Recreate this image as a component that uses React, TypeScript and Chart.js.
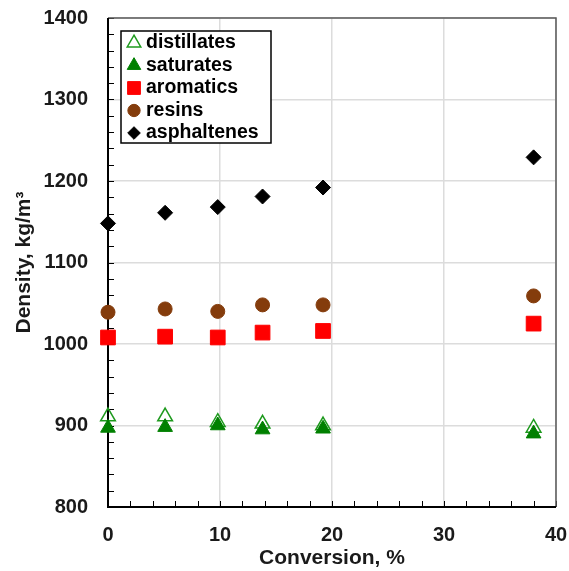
import React, { useEffect, useRef } from "react";
import { Chart, registerables } from "chart.js";

Chart.register(...registerables);

const conversion = [0, 5.1, 9.8, 13.8, 19.2, 38];
const distillates = [911, 911, 904, 902, 900, 897];
const saturates = [897, 898, 900, 895, 896, 890];
const aromatics = [1008, 1009, 1008, 1014, 1016, 1025];
const resins = [1039, 1043, 1040, 1048, 1048, 1059];
const asphaltenes = [1148, 1161, 1168, 1181, 1192, 1229];
const seriesNames = ["distillates", "saturates", "aromatics", "resins", "asphaltenes"];
const xTickValues = [0, 10, 20, 30, 40];
const yTickValues = [800, 900, 1000, 1100, 1200, 1300, 1400];

const FONT = '"Liberation Sans", Arial, sans-serif';
const GREEN = "#008000";
const RED = "#ff0000";
const BROWN = "#843c0c";

type Marker = { style: string; fill: string; stroke: string; r: number; lw: number };
const markers: Marker[] = [
  { style: "triangle", fill: "rgba(255,255,255,0)", stroke: "#1e9a1e", r: 8.5, lw: 1.5 },
  { style: "triangle", fill: GREEN, stroke: GREEN, r: 8.5, lw: 1 },
  { style: "rect", fill: RED, stroke: RED, r: 10.4, lw: 1 },
  { style: "circle", fill: BROWN, stroke: BROWN, r: 7, lw: 1 },
  { style: "rectRot", fill: "#000000", stroke: "#000000", r: 7.5, lw: 1 },
];
const seriesData = [distillates, saturates, aromatics, resins, asphaltenes];

function drawMarker(ctx: CanvasRenderingContext2D, m: Marker, x: number, y: number, scale = 1) {
  const r = m.r * scale;
  ctx.save();
  ctx.beginPath();
  if (m.style === "triangle") {
    let rad = 0;
    ctx.moveTo(x + Math.sin(rad) * r, y - Math.cos(rad) * r);
    rad += (2 * Math.PI) / 3;
    ctx.lineTo(x + Math.sin(rad) * r, y - Math.cos(rad) * r);
    rad += (2 * Math.PI) / 3;
    ctx.lineTo(x + Math.sin(rad) * r, y - Math.cos(rad) * r);
    ctx.closePath();
  } else if (m.style === "rect") {
    const s = r * Math.SQRT1_2;
    ctx.rect(x - s, y - s, 2 * s, 2 * s);
  } else if (m.style === "circle") {
    ctx.arc(x, y, r, 0, Math.PI * 2);
  } else {
    ctx.moveTo(x - r, y);
    ctx.lineTo(x, y - r);
    ctx.lineTo(x + r, y);
    ctx.lineTo(x, y + r);
    ctx.closePath();
  }
  ctx.fillStyle = m.fill;
  ctx.fill();
  ctx.lineWidth = m.lw;
  ctx.strokeStyle = m.stroke;
  ctx.stroke();
  ctx.restore();
}

const framePlugin = {
  id: "frameTicks",
  beforeDatasetsDraw(chart: any) {
    const { ctx, chartArea: a, scales } = chart;
    const xs = scales.x;
    const ys = scales.y;
    ctx.save();
    ctx.strokeStyle = "#000";
    ctx.lineWidth = 1;
    for (let v = 800; v <= 1400; v += 20) {
      const y = Math.round(ys.getPixelForValue(v)) + 0.5;
      ctx.beginPath();
      ctx.moveTo(a.left, y);
      ctx.lineTo(a.left + 6, y);
      ctx.stroke();
    }
    for (let v = 0; v <= 40; v += 2) {
      const x = Math.round(xs.getPixelForValue(v)) + 0.5;
      ctx.beginPath();
      ctx.moveTo(x, a.bottom);
      ctx.lineTo(x, a.bottom - 6);
      ctx.stroke();
    }
    ctx.strokeStyle = "#5a5a5a";
    ctx.lineWidth = 1.5;
    ctx.beginPath();
    ctx.moveTo(a.left, a.top);
    ctx.lineTo(a.right, a.top);
    ctx.lineTo(a.right, a.bottom);
    ctx.stroke();
    ctx.strokeStyle = "#000";
    ctx.lineWidth = 2;
    ctx.beginPath();
    ctx.moveTo(a.left, a.top);
    ctx.lineTo(a.left, a.bottom);
    ctx.lineTo(a.right, a.bottom);
    ctx.stroke();
    ctx.restore();
  },
  afterDraw(chart: any) {
    const { ctx, chartArea: a } = chart;
    const bx = a.left + 13;
    const by = a.top + 13;
    const bw = 150;
    const bh = 112;
    ctx.save();
    ctx.fillStyle = "#fff";
    ctx.fillRect(bx, by, bw, bh);
    ctx.strokeStyle = "#000";
    ctx.lineWidth = 1.5;
    ctx.strokeRect(bx, by, bw, bh);
    ctx.font = `bold 19.5px ${FONT}`;
    ctx.textBaseline = "middle";
    ctx.fillStyle = "#000";
    const legendScale = [0.92, 0.92, 0.87, 0.88, 0.84];
    seriesNames.forEach((name, i) => {
      const cy = by + 11 + i * 22.5;
      drawMarker(ctx, markers[i], bx + 13, cy + 1, legendScale[i]);
      ctx.fillText(name, bx + 25, cy + 1);
    });
    ctx.restore();
  },
};

export default function App() {
  const ref = useRef<HTMLCanvasElement | null>(null);
  useEffect(() => {
    document.body.style.margin = "0";
    if (!ref.current) return;
    const datasets = seriesNames.map((name, i) => ({
      label: name,
      data: conversion.map((c, j) => ({ x: c, y: seriesData[i][j] })),
      pointStyle: markers[i].style,
      pointRadius: markers[i].r,
      pointBackgroundColor: markers[i].fill,
      pointBorderColor: markers[i].stroke,
      pointBorderWidth: markers[i].lw,
      showLine: false,
      clip: false as any,
      order: 10 - i,
    }));
    const chart = new Chart(ref.current, {
      type: "scatter",
      data: { datasets },
      plugins: [framePlugin],
      options: {
        animation: false,
        responsive: false,
        maintainAspectRatio: false,
        layout: { padding: { top: 18, right: 13, left: 0, bottom: 0 } },
        plugins: { legend: { display: false }, tooltip: { enabled: false } },
        scales: {
          x: {
            type: "linear",
            min: 0,
            max: 40,
            afterBuildTicks: (s: any) => {
              s.ticks = xTickValues.map((v) => ({ value: v }));
            },
            afterFit: (s: any) => {
              s.height = 64;
              s.paddingLeft = 0;
              s.paddingRight = 0;
              s.paddingTop = 0;
              s.paddingBottom = 0;
            },
            grid: { color: "#dcdcdc", lineWidth: 1.5, drawTicks: false },
            border: { display: false },
            ticks: {
              padding: 16,
              color: "#1a1a1a",
              font: { family: FONT, size: 20, weight: "bold" },
              callback: (v: any) => String(v),
            },
            title: {
              display: true,
              text: "Conversion, %",
              color: "#1a1a1a",
              font: { family: FONT, size: 21, weight: "bold" },
              padding: { top: 0, bottom: 0 },
            },
          },
          y: {
            type: "linear",
            min: 800,
            max: 1400,
            afterBuildTicks: (s: any) => {
              s.ticks = yTickValues.map((v) => ({ value: v }));
            },
            afterFit: (s: any) => {
              s.width = 108;
              s.paddingLeft = 0;
              s.paddingRight = 0;
              s.paddingTop = 0;
              s.paddingBottom = 0;
            },
            grid: { color: "#dcdcdc", lineWidth: 1.5, drawTicks: false },
            border: { display: false },
            ticks: {
              padding: 20,
              color: "#1a1a1a",
              font: { family: FONT, size: 20, weight: "bold" },
              callback: (v: any) => String(v),
            },
            title: {
              display: true,
              text: "Density, kg/m³",
              color: "#1a1a1a",
              font: { family: FONT, size: 21, weight: "bold" },
              padding: { top: 12, bottom: 12 },
            },
          },
        },
      },
    });
    return () => chart.destroy();
  }, []);
  return (
    <div style={{ width: 569, height: 571 }}>
      <canvas ref={ref} width={569} height={571} style={{ display: "block" }} />
    </div>
  );
}
